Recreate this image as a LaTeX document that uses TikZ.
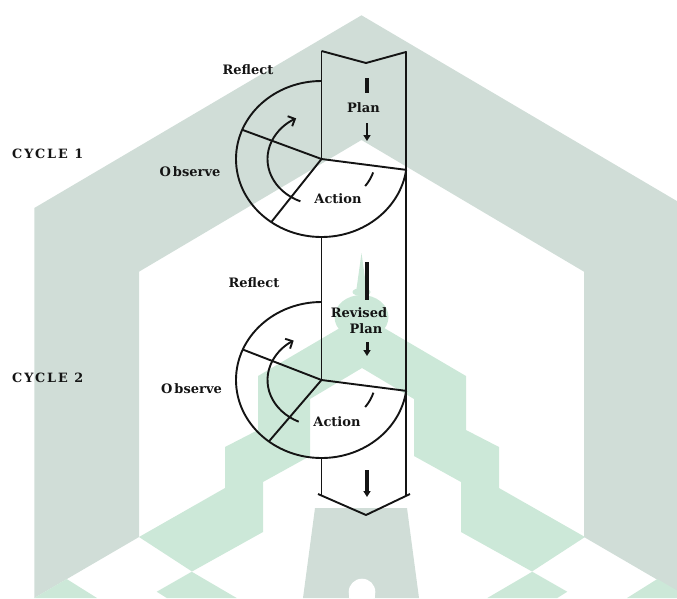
\documentclass[tikz,border=0pt]{standalone}
\usepackage{fontspec}
\setmainfont{DejaVu Serif}
\newfontfamily\cycfont{DejaVu Serif}[LetterSpace=15]
\usetikzlibrary{arrows.meta,calc}
\definecolor{wmgray}{RGB}{208,221,215}
\definecolor{wmmint}{RGB}{204,232,216}
\definecolor{ink}{RGB}{20,20,20}
\begin{document}
\begin{tikzpicture}[x=1pt,y=-1pt,
  lbl/.style={font=\fontsize{13}{15}\selectfont\bfseries, text=ink, inner sep=0pt},
  cyc/.style={font=\cycfont\fontsize{12.8}{15}\selectfont\bfseries, text=ink, inner sep=0pt, anchor=west},
  ln/.style={draw=ink, line width=1.9pt, line join=round},
  barline/.style={draw=ink, line width=#1},
  tipline/.style={draw=ink, line width=#1, -{Triangle[length=6pt,width=7pt]}}]
\useasboundingbox (0,0) rectangle (677,598);
% ---------- watermark ----------
\begin{scope}
\clip (0,0) rectangle (677,598);
\fill[wmgray] (34.3,598) -- (34.3,208) -- (361.5,15.3) -- (688.7,208) -- (688.7,598)
  -- (584,537) -- (584,271.7) -- (361.5,140) -- (139,271.7) -- (139,537) -- cycle;
\fill[wmmint] (362,315) -- (258,376) -- (258,430) -- (225,447) -- (225,488) -- (139,537)
  -- (192,571.5) -- (263,532) -- (263,482) -- (310,456) -- (310,399) -- (362,368)
  -- (414,399) -- (414,456) -- (461,482) -- (461,532) -- (532,571.5) -- (585,537)
  -- (499,488) -- (499,447) -- (466,430) -- (466,376) -- cycle;
\fill[wmmint] (361.5,253) -- (366.5,289) -- (356.5,289) -- cycle;
\fill[wmmint] (361.5,292) ellipse[x radius=9, y radius=4];
\fill[wmmint] (361.5,317) ellipse[x radius=27, y radius=22];
\fill[wmgray] (315,508) -- (407,508) -- (419,598) -- (303,598) -- cycle;
\fill[white] (362,592) circle[radius=13.3];
\fill[white] (348.7,592) rectangle (375.3,598);
\fill[wmmint] (66.7,579) -- (97,598) -- (34.3,598) -- cycle;
\fill[wmmint] (191.7,571.7) -- (236.7,598) -- (166.7,598) -- (156.7,591.7) -- cycle;
\fill[wmmint] (532.3,571.7) -- (487.3,598) -- (557.3,598) -- (567.3,591.7) -- cycle;
\fill[wmmint] (657.3,579) -- (627,598) -- (689.7,598) -- cycle;
\end{scope}
% ---------- column ----------
\coordinate (c1) at (321.5,159);
\coordinate (c2) at (321.5,380);
\coordinate (tl) at (321.5,51);
\coordinate (nt) at (366,63);
\coordinate (tr) at (406,52);
\coordinate (brr) at (406,495);
\coordinate (bll) at (321.5,495);
\coordinate (cl) at (318,494);
\coordinate (ct) at (366,515);
\coordinate (cr) at (410,494);
\draw[ln] (tl) -- (nt) -- (tr) -- (brr);
\draw[ln] (cl) -- (ct) -- (cr);
\draw[ln] (tl) -- (c1);
\draw[ln] ($(c1)+(0,78)$) -- (c2);
\draw[ln] ($(c2)+(0,78)$) -- (bll);
% ---------- cycle 1 ----------
\draw[ln] (c1) ++(270:85.5 and 78) arc[start angle=270, end angle=8, x radius=85.5, y radius=78];
\draw[ln] (c1) -- ++(202:85.5 and 78);
\draw[ln] (c1) -- ++(126:85.5 and 78);
\draw[ln] (c1) -- ++(8:85.5 and 78);
\draw[ln, -{Straight Barb[length=5.5pt,width=11pt]}] (c1) ++(113:54 and 46)
  arc[start angle=113, end angle=242, x radius=54, y radius=46];
\draw[ln] (c1) ++(17:54 and 46) arc[start angle=17, end angle=36, x radius=54, y radius=46];
% ---------- cycle 2 ----------
\draw[ln] (c2) ++(270:85.5 and 78) arc[start angle=270, end angle=8, x radius=85.5, y radius=78];
\draw[ln] (c2) -- ++(203:85.5 and 78);
\draw[ln] (c2) -- ++(128:85.5 and 78);
\draw[ln] (c2) -- ++(8:85.5 and 78);
\draw[ln, -{Straight Barb[length=5.5pt,width=11pt]}] (c2) ++(115:54 and 46)
  arc[start angle=115, end angle=239, x radius=54, y radius=46];
\draw[ln] (c2) ++(16:54 and 46) arc[start angle=16, end angle=36, x radius=54, y radius=46];
% ---------- column arrows ----------
\coordinate (a1s) at (367,78);  \coordinate (a1e) at (367,93);
\coordinate (p1s) at (367,123); \coordinate (p1e) at (367,141);
\coordinate (a2s) at (367,262); \coordinate (a2e) at (367,300);
\coordinate (p2s) at (367,342); \coordinate (p2e) at (367,356);
\coordinate (p3s) at (367,470); \coordinate (p3e) at (367,497);
\draw[barline=3.4pt] (a1s) -- (a1e);
\draw[tipline=2pt] (p1s) -- (p1e);
\draw[barline=4pt] (a2s) -- (a2e);
\draw[tipline=3pt] (p2s) -- (p2e);
\draw[tipline=3.6pt] (p3s) -- (p3e);
% ---------- labels ----------
\node[lbl] (refl1) at (248,70) {Reflect};
\node[lbl] (obs1) at (190,172) {O\kern2pt bserve};
\node[lbl] (plan1) at (363.5,108) {Plan};
\node[lbl] (act1) at (338,199) {Action};
\node[cyc] (cyc1) at (12,154) {CYCLE 1};
\node[lbl] (refl2) at (254,283) {Reflect};
\node[lbl] (obs2) at (191.5,389) {O\kern2pt bserve};
\node[lbl] (rev2) at (359,312.7) {Revised};
\node[lbl] (plan2) at (366,329) {Plan};
\node[lbl] (act2) at (337,421.7) {Action};
\node[cyc] (cyc2) at (12,378.3) {CYCLE 2};
\end{tikzpicture}
\end{document}
